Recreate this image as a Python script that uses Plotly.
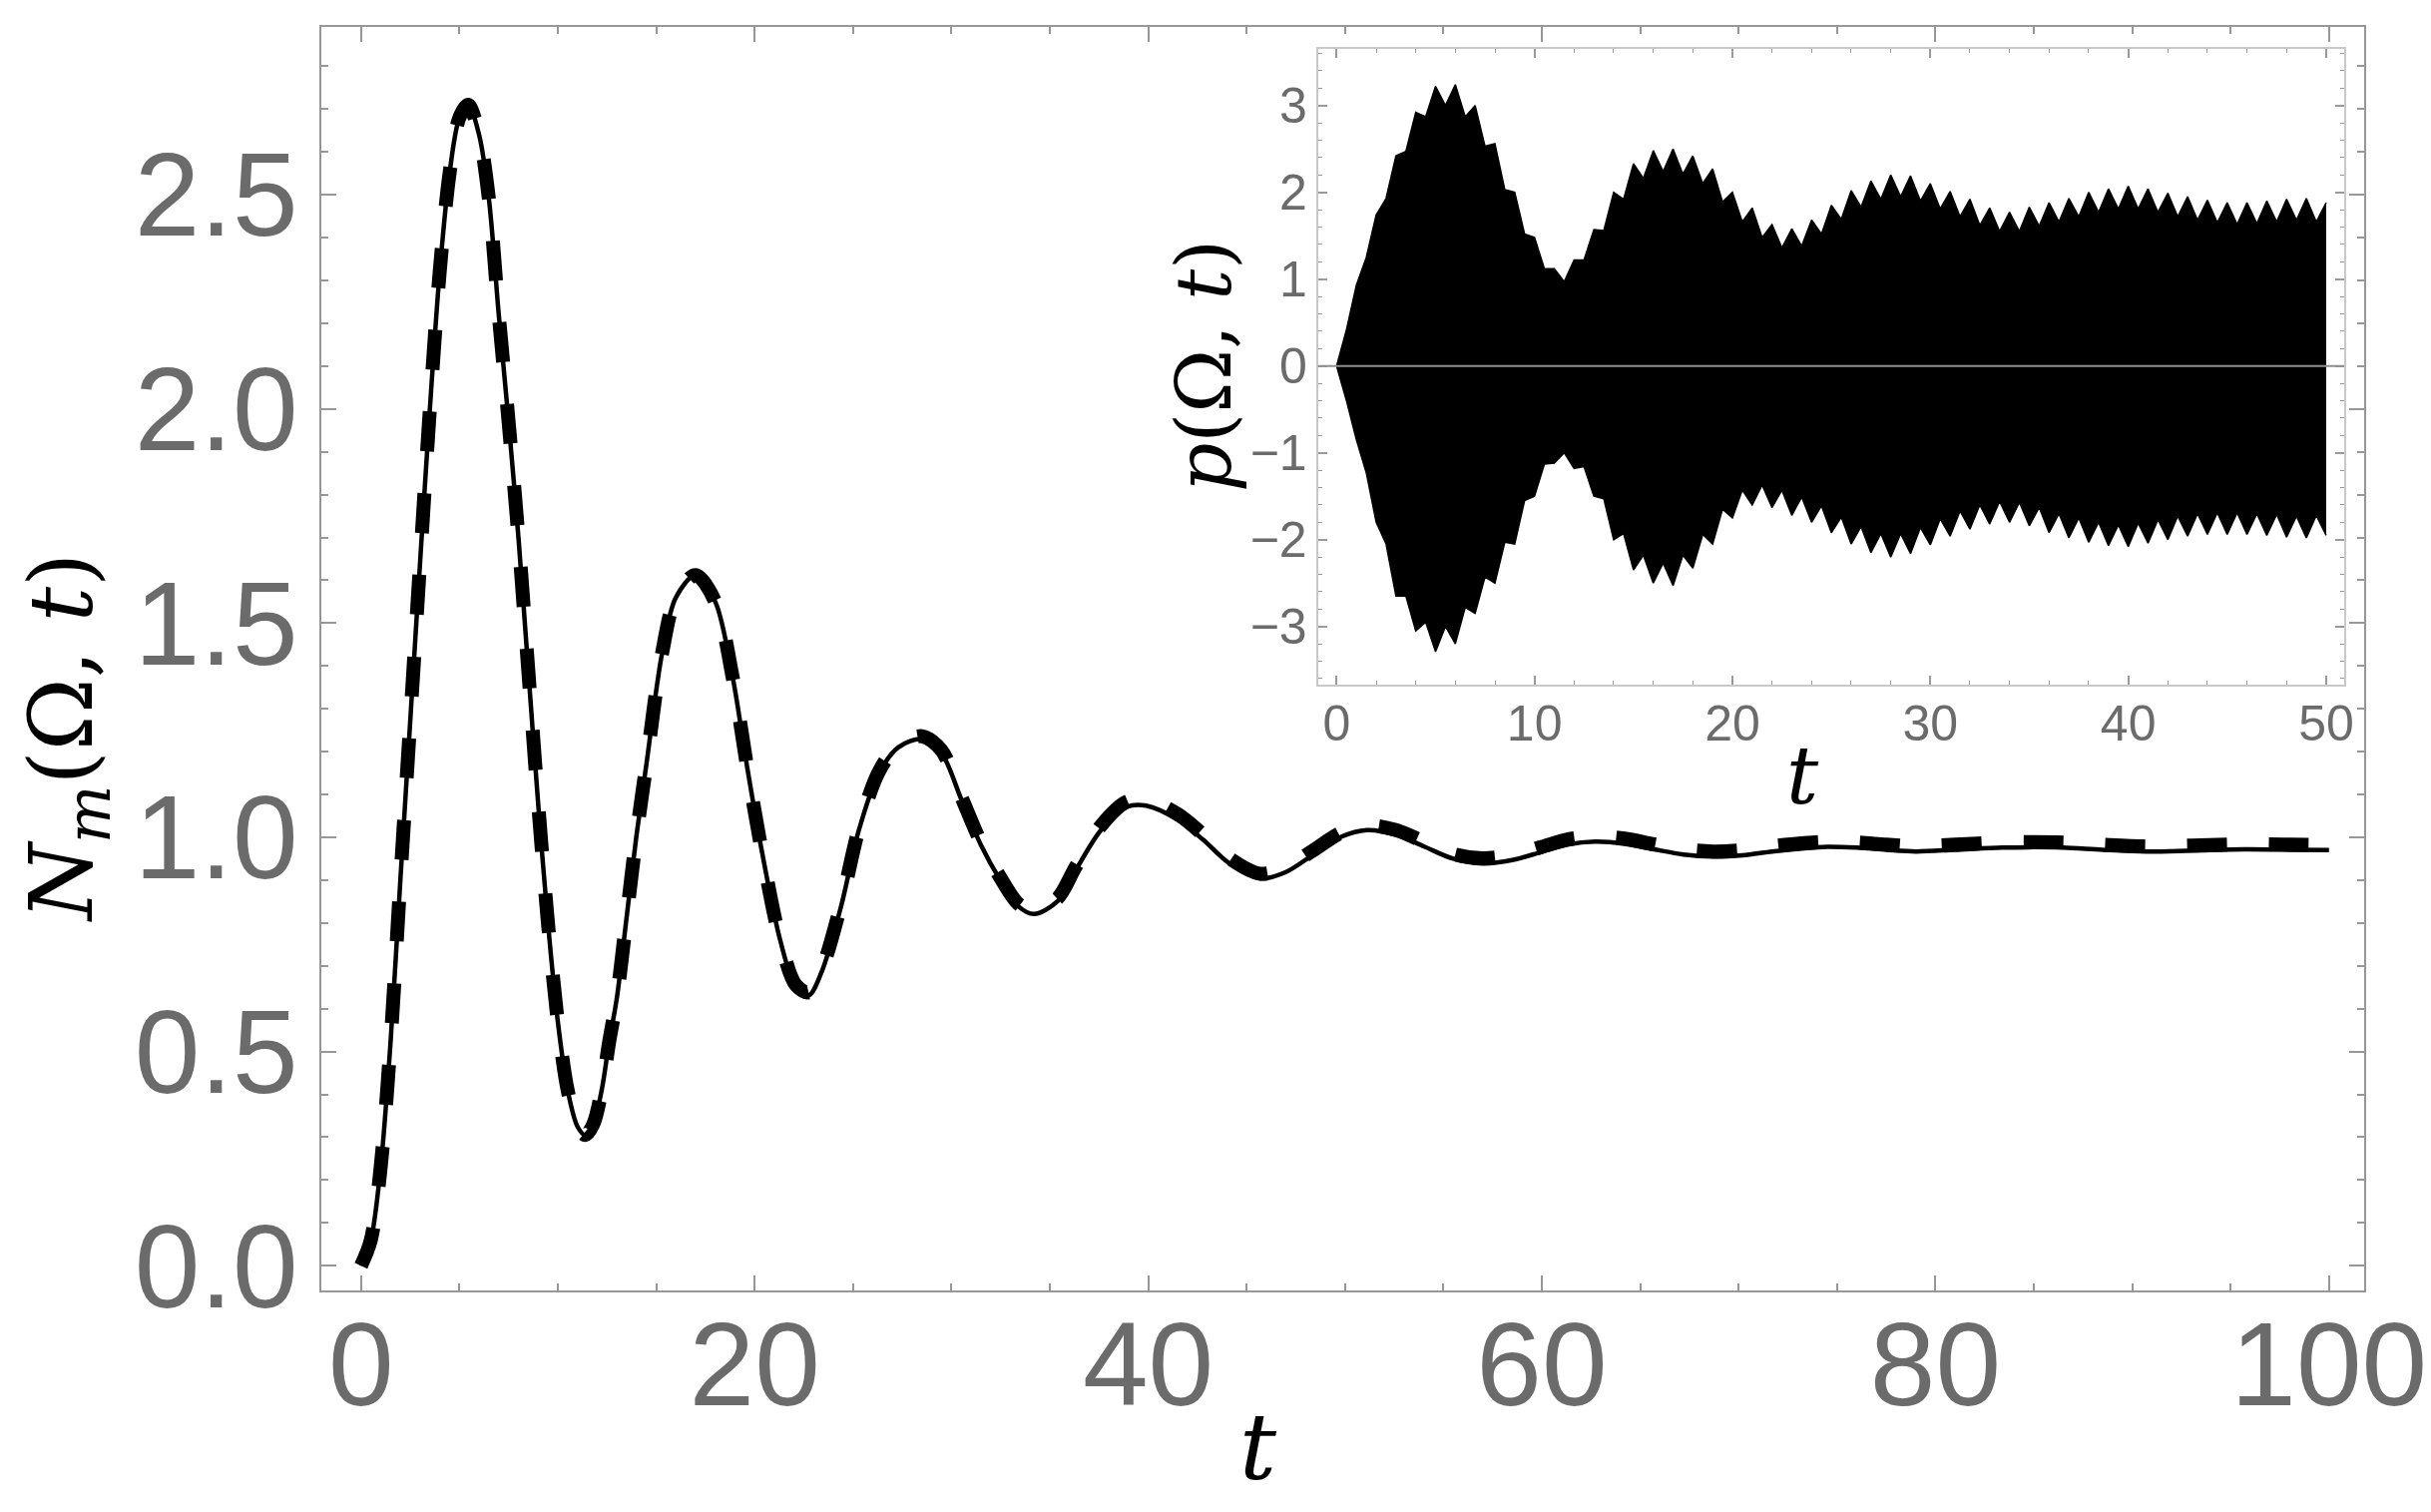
import plotly.graph_objects as go

# ---------------- main panel data ----------------
t_main = [0, 0.5, 1, 1.5, 2, 2.5, 3, 3.5, 4, 4.5,
          5, 5.45, 6, 6.5, 7, 7.5, 8, 8.5, 9, 9.5,
          10, 10.5, 11, 11.4, 11.8, 12.25, 12.6, 13, 13.5, 14,
          14.5, 15.3, 16, 17, 18, 18.9, 19.6, 20.4, 21.3, 22.1,
          22.75, 23.4, 24.4, 25.3, 26.3, 27.3, 28.5, 29.5, 30.5, 31.5,
          32.5, 33.4, 34.2, 35.4, 36.3, 37.6, 38.9, 39.9, 41.5, 42.8,
          44.1, 45.7, 47, 48.4, 49.8, 51.1, 52.6, 54, 55.5, 57,
          58.5, 60, 61.3, 62.7, 64.2, 65.7, 67.2, 68.7, 70.2, 71.7,
          73.2, 74.5, 76, 77.5, 79, 81, 83.4, 85, 86.5, 88.5,
          90.7, 93, 95.7, 98, 100]

n_solid = [0, 0.06, 0.23, 0.52, 0.90, 1.27, 1.64, 2.00, 2.32, 2.55,
           2.68, 2.71, 2.64, 2.49, 2.22, 1.97, 1.70, 1.39, 1.08, 0.80,
           0.57, 0.41, 0.325, 0.305, 0.33, 0.415, 0.52, 0.625, 0.815, 1.005,
           1.17, 1.43, 1.56, 1.612, 1.55, 1.37, 1.17, 0.96, 0.76, 0.65,
           0.631, 0.685, 0.84, 1.017, 1.148, 1.21, 1.229, 1.196, 1.089, 0.982,
           0.899, 0.839, 0.821, 0.851, 0.922, 1.017, 1.071, 1.074, 1.041, 0.994,
           0.94, 0.904, 0.919, 0.96, 1.001, 1.017, 1.006, 0.979, 0.95, 0.939,
           0.947, 0.966, 0.983, 0.99, 0.985, 0.972, 0.96, 0.955, 0.958, 0.967,
           0.974, 0.978, 0.976, 0.971, 0.967, 0.971, 0.976, 0.977, 0.976, 0.971,
           0.967, 0.969, 0.972, 0.971, 0.970]

n_dashed = [0, 0.06, 0.23, 0.52, 0.90, 1.27, 1.64, 2.00, 2.32, 2.55,
            2.68, 2.71, 2.64, 2.49, 2.22, 1.97, 1.70, 1.39, 1.08, 0.80,
            0.57, 0.41, 0.325, 0.305, 0.33, 0.415, 0.52, 0.625, 0.815, 1.005,
            1.17, 1.43, 1.56, 1.612, 1.55, 1.37, 1.17, 0.96, 0.76, 0.655,
            0.638, 0.69, 0.845, 1.02, 1.152, 1.215, 1.236, 1.203, 1.095, 0.988,
            0.905, 0.845, 0.828, 0.858, 0.93, 1.027, 1.083, 1.088, 1.054, 1.006,
            0.952, 0.915, 0.93, 0.97, 1.011, 1.028, 1.017, 0.99, 0.961, 0.951,
            0.959, 0.978, 0.995, 1.002, 0.997, 0.984, 0.972, 0.967, 0.970, 0.979,
            0.986, 0.990, 0.988, 0.983, 0.979, 0.983, 0.988, 0.989, 0.988, 0.983,
            0.979, 0.981, 0.984, 0.983, 0.982]

main_xticks = [0, 20, 40, 60, 80, 100]
main_yticks = [0.0, 0.5, 1.0, 1.5, 2.0, 2.5]
main_yticktext = ["0.0", "0.5", "1.0", "1.5", "2.0", "2.5"]

# ---------------- inset data: envelope of p(Omega, t) ----------------
t_inset = [0, 0.5, 1, 1.5, 2, 2.5, 3, 3.5, 4, 4.5,
           5, 5.5, 6, 6.5, 7, 7.5, 8, 8.5, 9, 9.5,
           10, 10.5, 11, 11.5, 12, 12.5, 13, 13.5, 14, 14.5,
           15, 15.5, 16, 16.5, 17, 17.5, 18, 18.5, 19, 19.5,
           20, 20.5, 21, 21.5, 22, 22.5, 23, 23.5, 24, 24.5,
           25, 25.5, 26, 26.5, 27, 27.5, 28, 28.5, 29, 29.5,
           30, 30.5, 31, 31.5, 32, 32.5, 33, 33.5, 34, 34.5,
           35, 35.5, 36, 36.5, 37, 37.5, 38, 38.5, 39, 39.5,
           40, 40.5, 41, 41.5, 42, 42.5, 43, 43.5, 44, 44.5,
           45, 45.5, 46, 46.5, 47, 47.5, 48, 48.5, 49, 49.5,
           50]

p_upper = [0.0, 0.42, 0.93, 1.25, 1.74, 1.93, 2.42, 2.47, 2.92, 2.87,
           3.22, 3.0, 3.24, 2.87, 3.0, 2.53, 2.56, 2.03, 2.0, 1.52,
           1.48, 1.12, 1.12, 0.97, 1.22, 1.22, 1.57, 1.56, 2.0, 1.92,
           2.33, 2.16, 2.48, 2.24, 2.5, 2.21, 2.42, 2.10, 2.27, 1.89,
           2.0, 1.66, 1.82, 1.48, 1.63, 1.36, 1.58, 1.38, 1.68, 1.52,
           1.85, 1.69, 2.02, 1.83, 2.13, 1.92, 2.2, 1.95, 2.19, 1.90,
           2.1, 1.81, 2.01, 1.72, 1.92, 1.62, 1.82, 1.55, 1.77, 1.55,
           1.83, 1.61, 1.88, 1.66, 1.93, 1.72, 2.0, 1.77, 2.04, 1.81,
           2.07, 1.81, 2.04, 1.77, 1.99, 1.72, 1.95, 1.68, 1.91, 1.65,
           1.88, 1.63, 1.88, 1.64, 1.9, 1.66, 1.92, 1.68, 1.93, 1.66,
           1.88]

p_lower = [0.0, -0.40, -0.85, -1.23, -1.8, -2.05, -2.65, -2.65, -3.05, -2.95,
           -3.29, -3.0, -3.2, -2.78, -2.85, -2.43, -2.5, -2.03, -2.05, -1.55,
           -1.5, -1.13, -1.12, -1.0, -1.18, -1.16, -1.5, -1.53, -2.0, -1.93,
           -2.35, -2.18, -2.5, -2.27, -2.53, -2.18, -2.33, -1.94, -2.05, -1.65,
           -1.75, -1.43, -1.6, -1.37, -1.63, -1.43, -1.72, -1.51, -1.8, -1.61,
           -1.92, -1.74, -2.05, -1.85, -2.15, -1.93, -2.2, -1.93, -2.16, -1.86,
           -2.06, -1.76, -1.96, -1.67, -1.88, -1.60, -1.82, -1.56, -1.8, -1.57,
           -1.84, -1.63, -1.92, -1.70, -1.98, -1.75, -2.03, -1.80, -2.07, -1.83,
           -2.08, -1.81, -2.04, -1.77, -2.0, -1.73, -1.96, -1.70, -1.94, -1.69,
           -1.94, -1.69, -1.94, -1.70, -1.95, -1.71, -1.97, -1.73, -1.98, -1.72,
           -1.95]

inset_xticks = [0, 10, 20, 30, 40, 50]
inset_yticks = [-3, -2, -1, 0, 1, 2, 3]

# ---------------- geometry ----------------
# the page body has an 8px margin, so the figure is drawn 8px right/down;
# all positions below are given in page pixels and converted.
OFF = 8
W, H = 2436 - OFF, 1515 - 2 * OFF


def fx(px):
    return (px - OFF) / W


def fy(py):
    return 1 - (py - OFF) / H


TICK_GRAY = "#6b6b6b"
FRAME = "#979797"
INSET_FRAME = "#c9c9c9"
SANS = "Liberation Sans, Arial, Helvetica, sans-serif"
SERIF = "DejaVu Serif, Liberation Serif, serif"

fig = go.Figure()

fig.add_trace(go.Scatter(
    x=t_main, y=n_dashed, mode="lines", xaxis="x", yaxis="y",
    line=dict(color="black", width=14, dash="40px,42px", shape="spline", smoothing=0.9),
    showlegend=False, hoverinfo="skip"))
fig.add_trace(go.Scatter(
    x=t_main, y=n_solid, mode="lines", xaxis="x", yaxis="y",
    line=dict(color="black", width=4.5, shape="spline", smoothing=0.9),
    showlegend=False, hoverinfo="skip"))

fig.add_trace(go.Scatter(
    x=t_inset, y=p_lower, mode="lines", xaxis="x2", yaxis="y2",
    line=dict(color="black", width=1.5),
    showlegend=False, hoverinfo="skip"))
fig.add_trace(go.Scatter(
    x=t_inset, y=p_upper, mode="lines", xaxis="x2", yaxis="y2",
    line=dict(color="black", width=1.5),
    fill="tonexty", fillcolor="black",
    showlegend=False, hoverinfo="skip"))

main_axis_common = dict(
    showline=True, linecolor=FRAME, linewidth=2, mirror="ticks",
    ticks="inside", tickcolor=FRAME, tickwidth=2, ticklen=15,
    showgrid=False, zeroline=False, automargin=False,
    tickfont=dict(family=SANS, size=118, color=TICK_GRAY),
)
inset_axis_common = dict(
    showline=True, linecolor=INSET_FRAME, linewidth=2, mirror="ticks",
    ticks="inside", tickcolor="#9a9a9a", tickwidth=1.5, ticklen=9,
    showgrid=False, zeroline=False, automargin=False,
    tickfont=dict(family=SANS, size=50, color=TICK_GRAY),
)

fig.update_layout(
    template="none",
    width=W, height=H, autosize=False,
    margin=dict(l=0, r=0, t=0, b=0, pad=0),
    paper_bgcolor="white", plot_bgcolor="white",
    showlegend=False,
    xaxis=dict(domain=[fx(322.3), fx(2369.3)], range=[-2.0, 101.8], anchor="y",
               tickvals=main_xticks, ticklabelstandoff=-28,
               minor=dict(dtick=5, tick0=0, ticks="inside", ticklen=7,
                          tickcolor=FRAME, tickwidth=1.5),
               **main_axis_common),
    yaxis=dict(domain=[fy(1292.7), fy(27.3)], range=[-0.057, 2.891], anchor="x",
               tickvals=main_yticks, ticktext=main_yticktext, ticklabelstandoff=-2,
               minor=dict(dtick=0.1, tick0=0, ticks="inside", ticklen=7,
                          tickcolor=FRAME, tickwidth=1.5),
               **main_axis_common),
    xaxis2=dict(domain=[fx(1320.7), fx(2349.0)], range=[-0.94, 50.91], anchor="y2",
                tickvals=inset_xticks, ticklabelstandoff=-6,
                minor=dict(dtick=2, tick0=0, ticks="inside", ticklen=4,
                           tickcolor="#9a9a9a", tickwidth=1),
                **inset_axis_common),
    yaxis2=dict(domain=[fy(686.0), fy(49.3)], range=[-3.67, 3.648], anchor="x2",
                tickvals=inset_yticks, ticklabelstandoff=-1,
                minor=dict(dtick=0.2, tick0=0, ticks="inside", ticklen=4,
                           tickcolor="#9a9a9a", tickwidth=1),
                **inset_axis_common),
    shapes=[dict(type="line", xref="x2 domain", yref="y2", x0=0, x1=1, y0=0, y1=0,
                 line=dict(color="#8f8f8f", width=2), layer="above")],
    annotations=[
        dict(text="<i>N</i><sub><i>m</i></sub>(Ω, <i>t</i>)", xref="paper", yref="paper",
             x=fx(68), y=fy(739), textangle=-90, showarrow=False,
             xanchor="center", yanchor="middle",
             font=dict(family=SERIF, size=88, color="black")),
        dict(text="<i>t</i>", xref="paper", yref="paper",
             x=fx(1261), y=fy(1505), showarrow=False,
             xanchor="center", yanchor="bottom", borderpad=0,
             font=dict(family=SERIF, size=92, color="black")),
        dict(text="<i>p</i>(Ω, <i>t</i>)", xref="paper", yref="paper",
             x=fx(1206), y=fy(367), textangle=-90, showarrow=False,
             xanchor="center", yanchor="middle",
             font=dict(family=SERIF, size=77, color="black")),
        dict(text="<i>t</i>", xref="paper", yref="paper",
             x=fx(1806), y=fy(777), showarrow=False,
             xanchor="center", yanchor="middle",
             font=dict(family=SERIF, size=80, color="black")),
    ],
)

fig.write_html("out.html")
